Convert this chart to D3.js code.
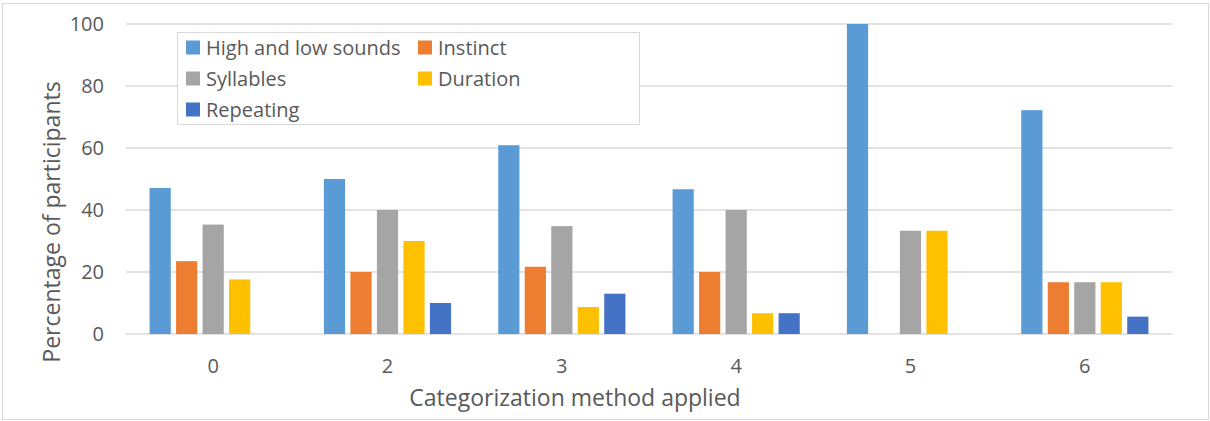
<!DOCTYPE html>
<html>
<head>
<meta charset="utf-8">
<script src="https://cdn.jsdelivr.net/npm/d3@7"></script>
<style>
	body { margin:0; background:#fff; }
	text { font-family:"Open Sans", sans-serif; fill:#595959; }
</style>
</head>
<body>
<div class="chart"></div>
<script>
// data (percent of participants)
var categories = ["0", "2", "3", "4", "5", "6"];
var series = ["High and low sounds", "Instinct", "Syllables", "Duration", "Repeating"];
var colors = ["#5B9BD5", "#ED7D31", "#A5A5A5", "#FFC000", "#4472C4"];
var highLow   = [47.1, 50, 60.9, 46.7, 100, 72.2];
var instinct  = [23.5, 20, 21.7, 20, 0, 16.7];
var syllables = [35.3, 40, 34.8, 40, 33.3, 16.7];
var duration  = [17.6, 30, 8.7, 6.7, 33.3, 16.7];
var repeating = [0, 10, 13.0, 6.7, 0, 5.6];
var yTicks = [0, 20, 40, 60, 80, 100];

var values = [highLow, instinct, syllables, duration, repeating];

var W = 1210, H = 421;
var margin = {top:24, left:126, right:38, bottom:87};
var w = W - margin.left - margin.right,
	h = H - margin.top - margin.bottom;

var svg = d3.select(".chart").append("svg")
	.attr("width", W)
	.attr("height", H);

// outer border
svg.append("rect")
	.attr("x", 2.5).attr("y", 3.5)
	.attr("width", W - 4).attr("height", H - 5)
	.attr("fill", "#fff")
	.attr("stroke", "#D9D9D9")
	.attr("stroke-width", 1);

var g = svg.append("g")
	.attr("transform", "translate(" + margin.left + "," + margin.top + ")");

var x0 = d3.scaleBand().domain(categories).range([0, w]);
var x1 = d3.scaleBand().domain(series).range([0, x0.bandwidth()])
	.paddingInner(0.2).paddingOuter(0.89);
var y = d3.scaleLinear().domain([0, 100]).range([h, 0]);

// gridlines
g.selectAll(".grid").data(yTicks).enter().append("line")
	.attr("x1", 0).attr("x2", w)
	.attr("y1", function(d){ return y(d); })
	.attr("y2", function(d){ return y(d); })
	.attr("stroke", "#D9D9D9")
	.attr("stroke-width", 1.5);

// y tick labels
g.selectAll(".ylab").data(yTicks).enter().append("text")
	.attr("x", -22)
	.attr("y", function(d){ return y(d); })
	.attr("dy", "0.35em")
	.attr("text-anchor", "end")
	.style("font-size", "20px")
	.text(function(d){ return d; });

// bars
var groups = g.selectAll(".grp").data(categories).enter().append("g")
	.attr("transform", function(d){ return "translate(" + x0(d) + ",0)"; });

groups.selectAll("rect")
	.data(function(c, i){
		return series.map(function(s, j){ return {s:s, v:values[j][i], c:colors[j]}; });
	})
	.enter().append("rect")
	.attr("x", function(d){ return x1(d.s); })
	.attr("width", x1.bandwidth())
	.attr("y", function(d){ return y(d.v); })
	.attr("height", function(d){ return h - y(d.v); })
	.attr("fill", function(d){ return d.c; });

// x tick labels
g.selectAll(".xlab").data(categories).enter().append("text")
	.attr("x", function(d){ return x0(d) + x0.bandwidth() / 2; })
	.attr("y", h + 39)
	.attr("text-anchor", "middle")
	.style("font-size", "20px")
	.text(function(d){ return d; });

// axis titles
svg.append("text")
	.attr("x", margin.left + w / 2 - 74)
	.attr("y", 406)
	.attr("text-anchor", "middle")
	.style("font-size", "23px")
	.text("Categorization method applied");

svg.append("text")
	.attr("transform", "translate(60,222) rotate(-90)")
	.attr("text-anchor", "middle")
	.style("font-size", "23px")
	.text("Percentage of participants");

// legend
var legend = svg.append("g");
legend.append("rect")
	.attr("x", 177.5).attr("y", 32.5)
	.attr("width", 462).attr("height", 92)
	.attr("fill", "#fff")
	.attr("stroke", "#D9D9D9");

var legPos = [[186, 47.5], [418, 47.5], [186, 78.5], [418, 78.5], [186, 109.5]];
var item = legend.selectAll(".item").data(series).enter().append("g")
	.attr("transform", function(d, i){ return "translate(" + legPos[i][0] + "," + legPos[i][1] + ")"; });
item.append("rect")
	.attr("x", 0).attr("y", -7)
	.attr("width", 14).attr("height", 14)
	.attr("fill", function(d, i){ return colors[i]; });
item.append("text")
	.attr("x", 20).attr("dy", "0.35em")
	.style("font-size", "20px")
	.text(function(d){ return d; });
</script>
</body>
</html>
